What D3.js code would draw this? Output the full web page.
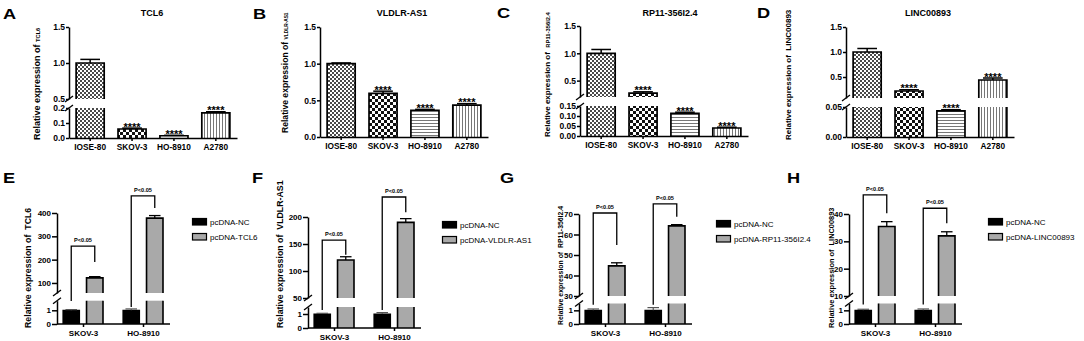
<!DOCTYPE html>
<html>
<head>
<meta charset="utf-8">
<script src="https://cdn.jsdelivr.net/npm/d3@7"></script>
<style>
  body { margin: 0; background: #fff; }
  svg { display: block; font-family: "Liberation Sans", Arial, sans-serif; }
  text { fill: #000; }
</style>
</head>
<body>
<div id="container"></div>
<script>
const width = 1084, height = 341;

// Top row: relative expression in four cell lines
const cellLines = ["IOSE-80", "SKOV-3", "HO-8910", "A2780"];
const cellStars = ["", "****", "****", "****"];
const tcl6Mean = [1.0, 0.06, 0.015, 0.167];
const tcl6Err = [0.05, 0.006, 0.003, 0.008];
const vldlrMean = [1.0, 0.595, 0.365, 0.435];
const vldlrErr = [0.01, 0.03, 0.012, 0.02];
const rp11Mean = [1.0, 0.27, 0.113, 0.04];
const rp11Err = [0.07, 0.025, 0.006, 0.004];
const lincMean = [1.0, 0.22, 0.0435, 0.44];
const lincErr = [0.07, 0.025, 0.002, 0.04];

// top row axis ticks (upper / lower segment of the broken axis)
const tcl6UpTicks = [0.5, 1.0, 1.5], tcl6LoTicks = [0, 0.1, 0.2];
const vldlrTicks = [0, 0.5, 1.0, 1.5];
const rp11UpTicks = [0.5, 1.0, 1.5], rp11LoTicks = [0, 0.05, 0.1, 0.15];
const lincUpTicks = [0.5, 1.0, 1.5], lincLoTicks = [0, 0.05];

// Bottom row: pcDNA-NC vs overexpression
const groups = ["SKOV-3", "HO-8910"];
const conditions = ["NC", "OE"];
const pLabel = "P<0.05";

const tcl6NcMean = [1, 1], tcl6NcErr = [0.05, 0.1];
const tcl6OeMean = [122, 378], tcl6OeErr = [5, 11];
const vldlrNcMean = [1, 1], vldlrNcErr = [0.05, 0.1];
const vldlrOeMean = [120.4, 190], vldlrOeErr = [6, 7];
const rp11NcMean = [1, 1], rp11NcErr = [0.1, 0.2];
const rp11OeMean = [44.7, 64.2], rp11OeErr = [1.5, 0.6];
const lincNcMean = [1, 1], lincNcErr = [0.08, 0.1];
const lincOeMean = [35.4, 32], lincOeErr = [1.8, 1.5];

// significance brackets: top & right leg end on upper axis, left leg end on lower axis
const tcl6BrTop = [258, 473], tcl6BrRight = [190, 421], tcl6BrLeft = [1.68, 1.24];
const vldlrBrTop = [157, 237], vldlrBrRight = [130, 209], vldlrBrLeft = [1.29, 1.29];
const rp11BrTop = [70.5, 74.9], rp11BrRight = [54.9, 68.7], rp11BrLeft = [1.41, 1.41];
const lincBrTop = [47, 42.1], lincBrRight = [40.3, 36.6], lincBrLeft = [1.42, 1.42];

const tcl6UpTicksB = [100, 200, 300, 400];
const vldlrUpTicksB = [50, 100, 150, 200];
const rp11UpTicksB = [30, 40, 50, 60, 70];
const lincUpTicksB = [10, 20, 30, 40];
const loTicksB = [0, 1];

const svg = d3.select("#container").append("svg")
  .attr("width", width).attr("height", height);

// fill patterns for the four cell lines
const defs = svg.append("defs");
function pattern(id, w, h, draw) {
  const p = defs.append("pattern").attr("id", id)
    .attr("patternUnits", "userSpaceOnUse").attr("width", w).attr("height", h);
  p.append("rect").attr("width", w).attr("height", h).attr("fill", "#fff");
  draw(p);
}
pattern("pat0", 4, 4, p => {
  p.append("rect").attr("width", 2).attr("height", 2).attr("fill", "#4a4a4a");
  p.append("rect").attr("x", 2).attr("y", 2).attr("width", 2).attr("height", 2).attr("fill", "#4a4a4a");
});
pattern("pat1", 6, 6, p => {
  p.append("rect").attr("width", 3).attr("height", 3).attr("fill", "#111");
  p.append("rect").attr("x", 3).attr("y", 3).attr("width", 3).attr("height", 3).attr("fill", "#111");
});
pattern("pat2", 3, 3, p => {
  p.append("rect").attr("width", 3).attr("height", 1).attr("fill", "#777");
});
pattern("pat3", 3, 3, p => {
  p.append("rect").attr("width", 1).attr("height", 3).attr("fill", "#777");
});
const patIds = ["pat0", "pat1", "pat2", "pat3"];

function letter(t, x, y) {
  svg.append("text")
    .attr("transform", `translate(${x},${y}) scale(1.3,1)`)
    .style("font-size", "14px").style("font-weight", "bold")
    .text(t);
}

function yLabel(cx, yb, parts) {
  const t = svg.append("text")
    .attr("transform", `translate(${cx},${yb}) rotate(-90)`)
    .attr("dy", "0.35em")
    .style("white-space", "pre")
    .style("font-size", parts[0].size + "px");
  parts.forEach(p => t.append("tspan")
    .style("font-size", p.size + "px")
    .style("font-weight", "bold")
    .text(p.t));
}

function styleAxis(ax, fontSize) {
  ax.select(".domain").attr("stroke", "#000").attr("stroke-width", 1.5);
  ax.selectAll(".tick line").attr("stroke", "#000").attr("stroke-width", 1.5);
  ax.selectAll("text").attr("fill", "#000")
    .style("font-size", fontSize + "px").style("font-weight", "bold")
    .style("font-family", '"Liberation Sans", Arial, sans-serif');
}

function breakMark(x, y) {
  svg.append("line")
    .attr("x1", x - 4).attr("y1", y + 3).attr("x2", x + 4).attr("y2", y - 3)
    .attr("stroke", "#000").attr("stroke-width", 1.3);
}

// split a bar into its pieces on a (possibly) broken axis
function pieces(v, up, lo) {
  if (!lo) return [{ s: up, a: up.domain()[0], b: v, top: true }];
  const lt = lo.domain()[1];
  if (v <= lt) return [{ s: lo, a: 0, b: v, top: true }];
  return [{ s: lo, a: 0, b: lt, top: false }, { s: up, a: up.domain()[0], b: v, top: true }];
}

function drawBar(g, x0, w, v, up, lo, fill, sw) {
  pieces(v, up, lo).forEach(pc => {
    const ya = pc.s(pc.a), yb = pc.s(pc.b);
    g.append("rect").attr("x", x0).attr("y", yb).attr("width", w).attr("height", ya - yb)
      .attr("fill", fill);
    const d = pc.top
      ? `M${x0},${ya}V${yb}H${x0 + w}V${ya}`
      : `M${x0},${ya}V${yb}M${x0 + w},${yb}V${ya}`;
    g.append("path").attr("d", d).attr("fill", "none")
      .attr("stroke", "#000").attr("stroke-width", sw);
  });
}

function errorBar(g, cx, w, v, e, yOf, color, sw) {
  const y0 = yOf(v), y1 = yOf(v + e);
  g.append("line").attr("x1", cx).attr("x2", cx).attr("y1", y0).attr("y2", y1)
    .attr("stroke", color).attr("stroke-width", sw);
  g.append("line").attr("x1", cx - w * 0.35).attr("x2", cx + w * 0.35).attr("y1", y1).attr("y2", y1)
    .attr("stroke", color).attr("stroke-width", sw);
}

function drawYAxes(p, up, lo, tickSize, fs) {
  const a1 = svg.append("g").attr("transform", `translate(${p.axisX},0)`)
    .call(d3.axisLeft(up).tickValues(p.upTicks).tickFormat(d3.format(p.upFmt))
      .tickSize(tickSize).tickSizeOuter(0).tickPadding(1));
  styleAxis(a1, fs);
  if (lo) {
    const a2 = svg.append("g").attr("transform", `translate(${p.axisX},0)`)
      .call(d3.axisLeft(lo).tickValues(p.loTicks).tickFormat(d3.format(p.loFmt))
        .tickSize(tickSize).tickSizeOuter(0).tickPadding(1));
    styleAxis(a2, fs);
    breakMark(p.axisX, up.range()[0]);
    breakMark(p.axisX, lo.range()[1]);
  }
}

// ---------- top row ----------
function drawTop(p) {
  const g = svg.append("g");
  const up = d3.scaleLinear().domain(p.upDom).range(p.upY);
  const lo = p.loDom ? d3.scaleLinear().domain(p.loDom).range([p.base, p.loY1]) : null;
  const yOf = v => (lo && v <= p.loDom[1]) ? lo(v) : up(v);
  const x = d3.scaleBand().domain(cellLines)
    .range([p.axisX, p.axisX + 168]).paddingInner(0.33).paddingOuter(0.17);

  cellLines.forEach((c, i) => {
    const v = p.mean[i], e = p.err[i], bw = x.bandwidth(), cx = x(c) + bw / 2;
    drawBar(g, x(c), bw, v, up, lo, `url(#${patIds[i]})`, 1.7);
    errorBar(g, cx, bw, v, e, yOf, "#000", 1.5);
    if (cellStars[i]) {
      // slight scale keeps the glyphs on grayscale antialiasing
      g.append("text")
        .attr("transform", `translate(${cx},${yOf(v + e) + 2.5}) scale(1.05,1)`)
        .attr("text-anchor", "middle")
        .attr("fill", "#000")
        .style("font-size", "10.5px").style("font-weight", "bold")
        .text(cellStars[i]);
    }
  });

  const xa = svg.append("g").attr("transform", `translate(0,${p.base})`)
    .call(d3.axisBottom(x).tickSize(3).tickSizeOuter(0).tickPadding(3));
  styleAxis(xa, 8.3);
  drawYAxes(p, up, lo, 3, 8.5);

  svg.append("text").attr("x", p.titleX).attr("y", 16).attr("text-anchor", "middle")
    .style("font-size", "9px").style("font-weight", "bold").text(p.title);
  letter(p.letter, p.letterX, p.letterY);
  yLabel(p.labX, p.labY, p.label);
}

drawTop({
  letter: "A", letterX: 3, letterY: 19, title: "TCL6", titleX: 152,
  mean: tcl6Mean, err: tcl6Err, axisX: 69, base: 138,
  upDom: [0.5, 1.5], upY: [99, 27], upTicks: tcl6UpTicks, upFmt: ".1f",
  loDom: [0, 0.2], loY1: 108, loTicks: tcl6LoTicks, loFmt: ".1f",
  labX: 37, labY: 140,
  label: [{ t: "Relative expression of ", size: 9 }, { t: "TCL6", size: 5.7 }]
});
drawTop({
  letter: "B", letterX: 253, letterY: 19, title: "VLDLR-AS1", titleX: 402,
  mean: vldlrMean, err: vldlrErr, axisX: 320, base: 137,
  upDom: [0, 1.5], upY: [137, 27], upTicks: vldlrTicks, upFmt: ".1f",
  labX: 285, labY: 133,
  label: [{ t: "Relative expression of ", size: 8.6 }, { t: "VLDLR-AS1", size: 4.8 }]
});
drawTop({
  letter: "C", letterX: 497, letterY: 18, title: "RP11-356I2.4", titleX: 670,
  mean: rp11Mean, err: rp11Err, axisX: 580, base: 136,
  upDom: [0.2, 1.5], upY: [97, 26], upTicks: rp11UpTicks, upFmt: ".1f",
  loDom: [0, 0.15], loY1: 106, loTicks: rp11LoTicks, loFmt: ".2f",
  labX: 547, labY: 137,
  label: [{ t: "Relative expression of  ", size: 8 }, { t: "RP11-356I2.4", size: 5.8 }]
});
drawTop({
  letter: "D", letterX: 757, letterY: 18, title: "LINC00893", titleX: 928,
  mean: lincMean, err: lincErr, axisX: 846, base: 137,
  upDom: [0.08, 1.5], upY: [98, 27], upTicks: lincUpTicks, upFmt: ".1f",
  loDom: [0, 0.05], loY1: 107, loTicks: lincLoTicks, loFmt: ".2f",
  labX: 788, labY: 140,
  label: [{ t: "Relative expression of  LINC00893", size: 8 }]
});

// ---------- bottom row ----------
function drawBottom(p) {
  const g = svg.append("g");
  const up = d3.scaleLinear().domain(p.upDom).range(p.upY);
  const lo = d3.scaleLinear().domain(p.loDom).range([p.base, p.loY1]);
  const yOf = v => v <= p.loDom[1] ? lo(v) : up(v);
  const gx = d3.scalePoint().domain(groups).range([p.axisX + 26, p.axisX + 86]);
  const sub = d3.scaleBand().domain(conditions).range([-20, 20]).paddingInner(0.3);
  const bw = sub.bandwidth();

  groups.forEach((grp, i) => {
    const xNc = gx(grp) + sub("NC"), xOe = gx(grp) + sub("OE");
    drawBar(g, xNc, bw, p.ncMean[i], up, lo, "#000", 1.2);
    errorBar(g, xNc + bw / 2, bw, p.ncMean[i], p.ncErr[i], yOf, "#555", 1.2);
    drawBar(g, xOe, bw, p.oeMean[i], up, lo, "#a9a9a9", 1.6);
    errorBar(g, xOe + bw / 2, bw, p.oeMean[i], p.oeErr[i], yOf, "#000", 1.3);

    const xl = xNc + bw / 2, xr = xOe + bw / 2, yt = up(p.brTop[i]);
    g.append("path")
      .attr("d", `M${xl},${lo(p.brLeft[i])}V${yt}H${xr}V${up(p.brRight[i])}`)
      .attr("fill", "none").attr("stroke", "#000").attr("stroke-width", 1.3);
    g.append("text").attr("x", (xl + xr) / 2).attr("y", yt - 4)
      .attr("text-anchor", "middle")
      .style("font-size", "5.6px").style("font-weight", "bold")
      .text(pLabel);
  });

  const xa = svg.append("g").attr("transform", `translate(0,${p.base})`)
    .call(d3.axisBottom(gx).tickSize(3).tickPadding(3));
  xa.select(".domain").remove();
  styleAxis(xa, 8);
  svg.append("line").attr("x1", p.axisX).attr("x2", p.axisX + 113)
    .attr("y1", p.base).attr("y2", p.base)
    .attr("stroke", "#000").attr("stroke-width", 1.5);
  drawYAxes(p, up, lo, 5, 8);

  // legend
  const lg = svg.append("g").attr("transform", `translate(${p.legX},${p.legY})`);
  [["#000", "pcDNA-NC"], ["#a9a9a9", p.oeName]].forEach(([c, t], i) => {
    lg.append("rect").attr("x", 0.5).attr("y", i * 15 + 0.5).attr("width", 14).attr("height", 6.5)
      .attr("fill", c).attr("stroke", "#000").attr("stroke-width", 1.2);
    lg.append("text").attr("x", 18).attr("y", i * 15 + 7.3)
      .style("font-size", "8px").text(t);
  });

  letter(p.letter, p.letterX, 183);
  yLabel(p.labX, p.labY, [{ t: "Relative expression of  " + p.gene, size: p.labSize }]);
}

drawBottom({
  letter: "E", letterX: 3, gene: "TCL6", oeName: "pcDNA-TCL6",
  ncMean: tcl6NcMean, ncErr: tcl6NcErr, oeMean: tcl6OeMean, oeErr: tcl6OeErr,
  brTop: tcl6BrTop, brRight: tcl6BrRight, brLeft: tcl6BrLeft,
  axisX: 57, base: 324, upDom: [57, 400], upY: [293, 213], upTicks: tcl6UpTicksB, upFmt: "d",
  loDom: [0, 1.7], loY1: 300.7, loTicks: loTicksB, loFmt: "d",
  legX: 192, legY: 218, labX: 28, labY: 328, labSize: 8.8
});
drawBottom({
  letter: "F", letterX: 252, gene: "VLDLR-AS1", oeName: "pcDNA-VLDLR-AS1",
  ncMean: vldlrNcMean, ncErr: vldlrNcErr, oeMean: vldlrOeMean, oeErr: vldlrOeErr,
  brTop: vldlrBrTop, brRight: vldlrBrRight, brLeft: vldlrBrLeft,
  axisX: 308, base: 328, upDom: [50, 200], upY: [298, 217], upTicks: vldlrUpTicksB, upFmt: "d",
  loDom: [0, 1.5], loY1: 307, loTicks: loTicksB, loFmt: "d",
  legX: 442, legY: 221, labX: 280, labY: 328, labSize: 8.8
});
drawBottom({
  letter: "G", letterX: 500, gene: "RP11-356I2.4", oeName: "pcDNA-RP11-356I2.4",
  ncMean: rp11NcMean, ncErr: rp11NcErr, oeMean: rp11OeMean, oeErr: rp11OeErr,
  brTop: rp11BrTop, brRight: rp11BrRight, brLeft: rp11BrLeft,
  axisX: 579, base: 324, upDom: [30, 70], upY: [296, 214], upTicks: rp11UpTicksB, upFmt: "d",
  loDom: [0, 1.5], loY1: 303.5, loTicks: loTicksB, loFmt: "d",
  legX: 716, legY: 220, labX: 561, labY: 325, labSize: 6.9
});
drawBottom({
  letter: "H", letterX: 787, gene: "LINC00893", oeName: "pcDNA-LINC00893",
  ncMean: lincNcMean, ncErr: lincNcErr, oeMean: lincOeMean, oeErr: lincOeErr,
  brTop: lincBrTop, brRight: lincBrRight, brLeft: lincBrLeft,
  axisX: 849, base: 324, upDom: [10, 40], upY: [296, 214], upTicks: lincUpTicksB, upFmt: "d",
  loDom: [0, 1.5], loY1: 303.5, loTicks: loTicksB, loFmt: "d",
  legX: 988, legY: 218, labX: 831, labY: 328, labSize: 7.4
});
</script>
</body>
</html>
